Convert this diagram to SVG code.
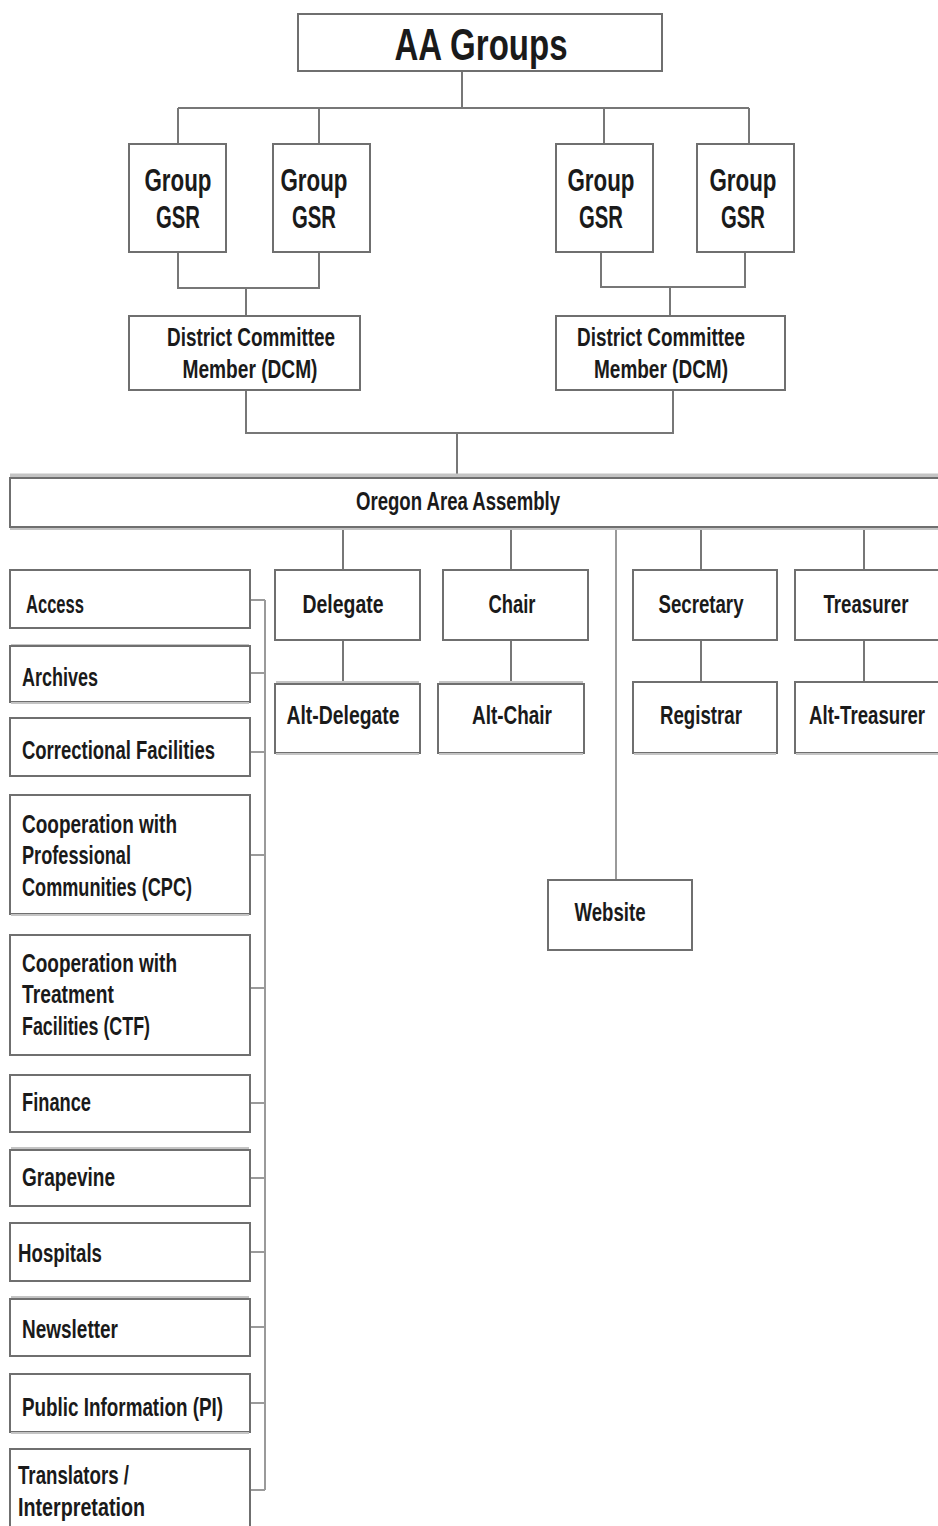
<svg xmlns="http://www.w3.org/2000/svg" width="938" height="1526" viewBox="0 0 938 1526">
<style>
.box{fill:#fff;stroke:#6f6f6f;stroke-width:2}
.sh{fill:none;stroke:#c4c4c4;stroke-width:2}
.ln{fill:none;stroke:#777;stroke-width:2}
.lt{fill:none;stroke:#9a9a9a;stroke-width:2}
text{font-family:"Liberation Sans Narrow","Liberation Sans",Arial,sans-serif;font-weight:bold;fill:#1a1a1a;font-size:25px}
.c{text-anchor:middle}
.big{font-size:44px}
.gsr{font-size:31px}
</style>
<rect width="938" height="1526" fill="#fff"/>
<g id="connectors">
<path class="ln" d="M462 71V108M178 108H749M178 108V144M319 108V144M604 108V144M749 108V144"/>
<path class="ln" d="M178 252V288H319V252M246 288V316"/>
<path class="ln" d="M601 252V287H745V252M670 287V316"/>
<path class="ln" d="M246 390V433H673V390M457 433V475"/>
<path class="ln" d="M343 527V570M511 527V570M701 527V570M864 527V570"/>
<path class="lt" d="M616 527V880"/>
<path class="ln" d="M343 640V682M511 640V682M701 640V682M864 640V682"/>
<path class="lt" d="M265 600V1490"/>
<path class="lt" d="M250 600H265M250 673H265M250 752H265M250 855H265M250 988H265M250 1103H265M250 1178H265M250 1252H265M250 1327H265M250 1403H265M250 1490H265"/>
</g>
<g id="aa-groups"><rect class="box" x="298" y="14" width="364" height="57"/><text class="big c" x="481" y="60" textLength="173" lengthAdjust="spacingAndGlyphs">AA Groups</text></g>
<g id="gsr1"><rect class="box" x="129" y="144" width="97" height="108"/><text class="gsr c" x="178" y="191" textLength="67" lengthAdjust="spacingAndGlyphs">Group</text><text class="gsr c" x="178" y="228" textLength="44" lengthAdjust="spacingAndGlyphs">GSR</text></g>
<g id="gsr2"><rect class="box" x="273" y="144" width="97" height="108"/><text class="gsr c" x="314" y="191" textLength="67" lengthAdjust="spacingAndGlyphs">Group</text><text class="gsr c" x="314" y="228" textLength="44" lengthAdjust="spacingAndGlyphs">GSR</text></g>
<g id="gsr3"><rect class="box" x="556" y="144" width="97" height="108"/><text class="gsr c" x="601" y="191" textLength="67" lengthAdjust="spacingAndGlyphs">Group</text><text class="gsr c" x="601" y="228" textLength="44" lengthAdjust="spacingAndGlyphs">GSR</text></g>
<g id="gsr4"><rect class="box" x="697" y="144" width="97" height="108"/><text class="gsr c" x="743" y="191" textLength="67" lengthAdjust="spacingAndGlyphs">Group</text><text class="gsr c" x="743" y="228" textLength="44" lengthAdjust="spacingAndGlyphs">GSR</text></g>
<g id="dcm1"><rect class="box" x="129" y="316" width="231" height="74"/><text class="c" x="251" y="346" textLength="168" lengthAdjust="spacingAndGlyphs">District Committee</text><text class="c" x="250" y="378" textLength="135" lengthAdjust="spacingAndGlyphs">Member (DCM)</text></g>
<g id="dcm2"><rect class="box" x="556" y="316" width="229" height="74"/><text class="c" x="661" y="346" textLength="168" lengthAdjust="spacingAndGlyphs">District Committee</text><text class="c" x="661" y="378" textLength="134" lengthAdjust="spacingAndGlyphs">Member (DCM)</text></g>
<g id="assembly"><path d="M10 476H940" stroke="#c4c4c4" stroke-width="5"/><path d="M10 528H940" stroke="#c4c4c4" stroke-width="4"/><rect class="box" x="10" y="478" width="932" height="49"/><text class="c" x="458" y="510" textLength="204" lengthAdjust="spacingAndGlyphs">Oregon Area Assembly</text></g>
<g id="access"><rect class="box" x="10" y="570" width="240" height="58"/><text x="26" y="613" textLength="58" lengthAdjust="spacingAndGlyphs">Access</text></g>
<g id="archives"><path class="sh" d="M11 645H249"/><rect class="box" x="10" y="646" width="240" height="56"/><path class="sh" d="M11 703H249"/><text x="22" y="686" textLength="76" lengthAdjust="spacingAndGlyphs">Archives</text></g>
<g id="correctional"><rect class="box" x="10" y="718" width="240" height="58"/><text x="22" y="759" textLength="193" lengthAdjust="spacingAndGlyphs">Correctional Facilities</text></g>
<g id="cpc"><rect class="box" x="10" y="795" width="240" height="119"/><path class="sh" d="M11 915H249"/><text x="22" y="833" textLength="155" lengthAdjust="spacingAndGlyphs">Cooperation with</text><text x="22" y="864" textLength="109" lengthAdjust="spacingAndGlyphs">Professional</text><text x="22" y="896" textLength="170" lengthAdjust="spacingAndGlyphs">Communities (CPC)</text></g>
<g id="ctf"><rect class="box" x="10" y="935" width="240" height="120"/><text x="22" y="972" textLength="155" lengthAdjust="spacingAndGlyphs">Cooperation with</text><text x="22" y="1003" textLength="92" lengthAdjust="spacingAndGlyphs">Treatment</text><text x="22" y="1035" textLength="128" lengthAdjust="spacingAndGlyphs">Facilities (CTF)</text></g>
<g id="finance"><rect class="box" x="10" y="1075" width="240" height="57"/><text x="22" y="1111" textLength="69" lengthAdjust="spacingAndGlyphs">Finance</text></g>
<g id="grapevine"><path class="sh" d="M11 1148H249"/><rect class="box" x="10" y="1150" width="240" height="56"/><text x="22" y="1186" textLength="93" lengthAdjust="spacingAndGlyphs">Grapevine</text></g>
<g id="hospitals"><rect class="box" x="10" y="1223" width="240" height="58"/><text x="18" y="1262" textLength="84" lengthAdjust="spacingAndGlyphs">Hospitals</text></g>
<g id="newsletter"><path class="sh" d="M11 1297H249"/><rect class="box" x="10" y="1299" width="240" height="57"/><text x="22" y="1338" textLength="96" lengthAdjust="spacingAndGlyphs">Newsletter</text></g>
<g id="pi"><rect class="box" x="10" y="1374" width="240" height="58"/><path class="sh" d="M11 1433H249"/><text x="22" y="1416" textLength="201" lengthAdjust="spacingAndGlyphs">Public Information (PI)</text></g>
<g id="translators"><rect class="box" x="10" y="1449" width="240" height="90"/><text x="18" y="1484" textLength="111" lengthAdjust="spacingAndGlyphs">Translators /</text><text x="18" y="1516" textLength="127" lengthAdjust="spacingAndGlyphs">Interpretation</text></g>
<g id="delegate"><rect class="box" x="275" y="570" width="145" height="70"/><text class="c" x="343" y="613" textLength="81" lengthAdjust="spacingAndGlyphs">Delegate</text></g>
<g id="alt-delegate"><path class="sh" d="M276 682H419"/><rect class="box" x="275" y="684" width="145" height="69"/><path class="sh" d="M276 754H419"/><text class="c" x="343" y="724" textLength="113" lengthAdjust="spacingAndGlyphs">Alt-Delegate</text></g>
<g id="chair"><rect class="box" x="443" y="570" width="145" height="70"/><text class="c" x="512" y="613" textLength="47" lengthAdjust="spacingAndGlyphs">Chair</text></g>
<g id="alt-chair"><path class="sh" d="M439 682H583"/><rect class="box" x="438" y="684" width="146" height="69"/><path class="sh" d="M439 754H583"/><text class="c" x="512" y="724" textLength="80" lengthAdjust="spacingAndGlyphs">Alt-Chair</text></g>
<g id="secretary"><rect class="box" x="633" y="570" width="144" height="70"/><text class="c" x="701" y="613" textLength="85" lengthAdjust="spacingAndGlyphs">Secretary</text></g>
<g id="registrar"><rect class="box" x="633" y="682" width="144" height="71"/><path class="sh" d="M634 754H776"/><text class="c" x="701" y="724" textLength="82" lengthAdjust="spacingAndGlyphs">Registrar</text></g>
<g id="treasurer"><rect class="box" x="795" y="570" width="150" height="70"/><text class="c" x="866" y="613" textLength="85" lengthAdjust="spacingAndGlyphs">Treasurer</text></g>
<g id="alt-treasurer"><rect class="box" x="795" y="682" width="150" height="71"/><path class="sh" d="M796 754H938"/><text class="c" x="867" y="724" textLength="116" lengthAdjust="spacingAndGlyphs">Alt-Treasurer</text></g>
<g id="website"><rect class="box" x="548" y="880" width="144" height="70"/><text class="c" x="610" y="921" textLength="71" lengthAdjust="spacingAndGlyphs">Website</text></g>
</svg>
